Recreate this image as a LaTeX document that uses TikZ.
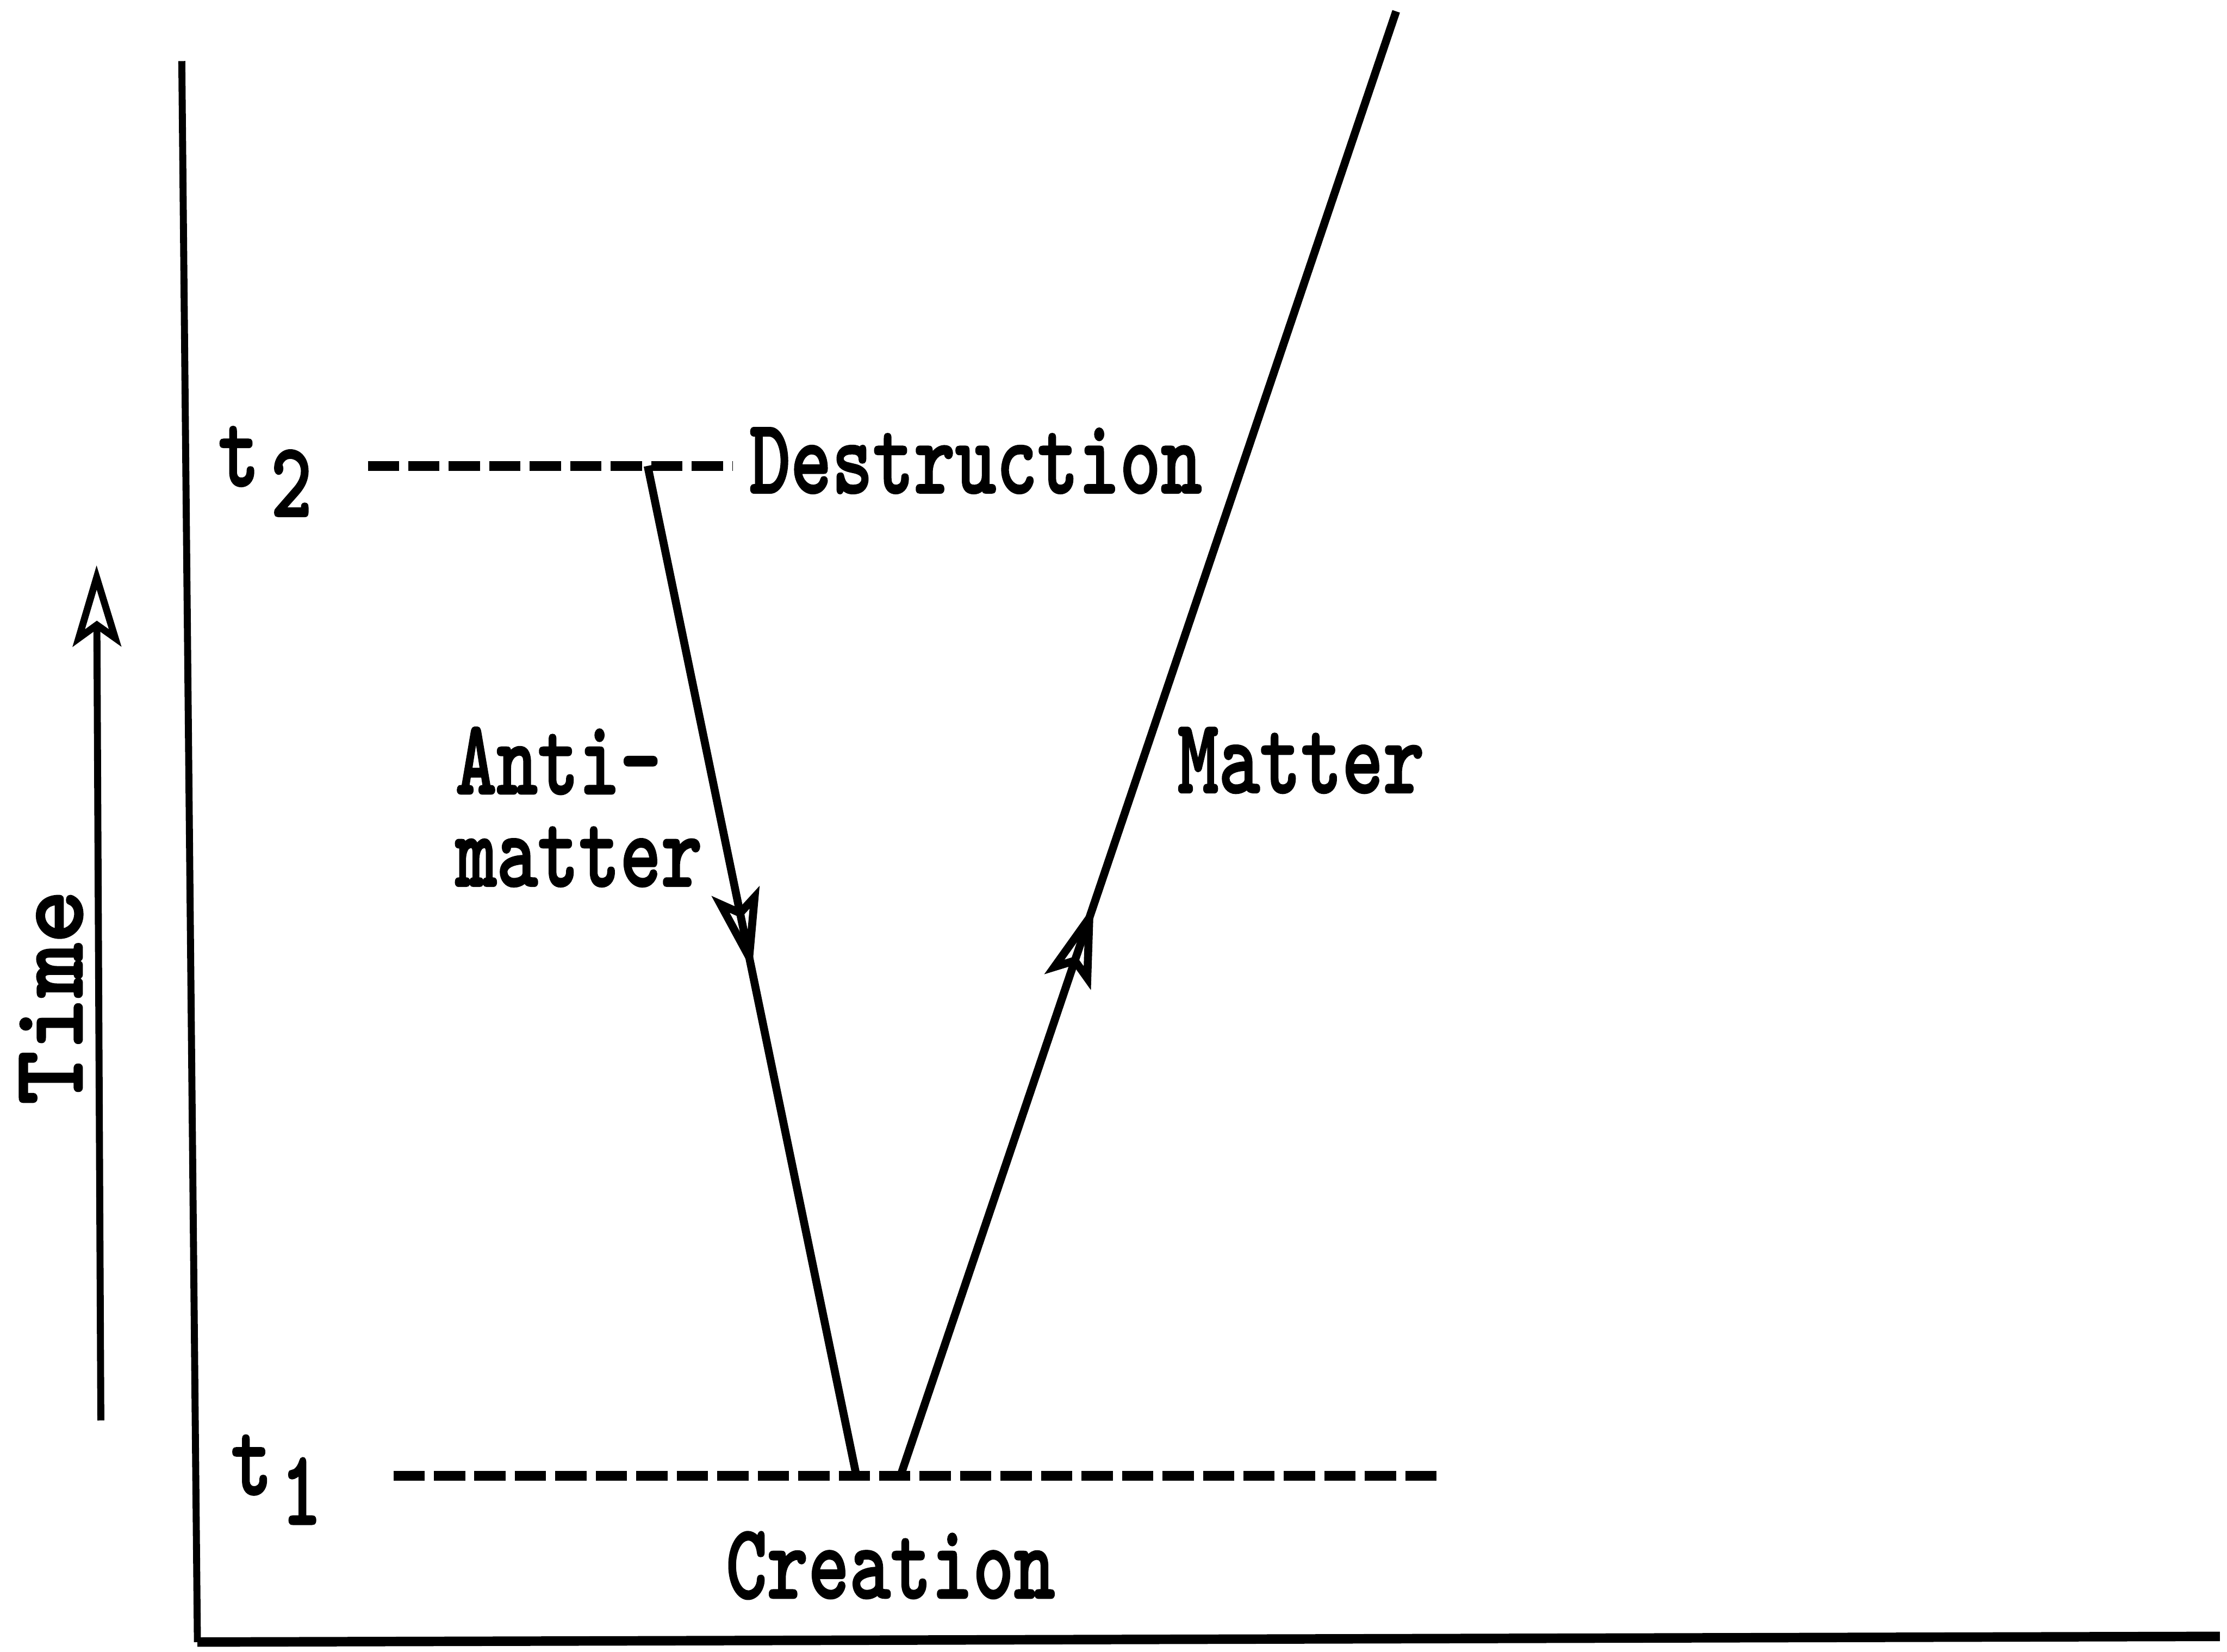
\documentclass[tikz,border=0pt]{standalone}
\usepackage{graphicx}
\usepackage{fontspec}
\newfontfamily\heavytt{lmmonolt10-bold}[Extension=.otf, FakeBold=1.6]
\usetikzlibrary{arrows.meta,decorations.markings}
\newcommand\tallbox[1]{\scalebox{1}[1.36]{#1}}
\tikzset{opentip/.tip={Stealth[open, length=5.7mm, width=3.4mm, inset=1.2mm]}}
\begin{document}
\begin{tikzpicture}[x=0.1mm,y=-0.1mm,
  lbl/.style={inner sep=0pt, font=\fontsize{15.7}{18.5}\selectfont\heavytt},
  axisline/.style={line width=1.4pt},
  worldline/.style={line width=1.6pt},
  levelline/.style={line width=2pt, dash pattern=on 2.2mm off 0.65mm},
  midtip/.style={postaction={decorate}, decoration={markings, mark=at position #1 with {\arrow{opentip}}}}
]
\useasboundingbox (0,0) rectangle (1568,1163);

% axes
\coordinate (ytop) at (128,43);
\coordinate (orig) at (139,1156);
\coordinate (xend) at (1563,1152);
\draw[axisline] (ytop) -- (orig);
\draw[line width=1.9pt] (orig) -- (xend);

% time arrow
\coordinate (tbot) at (71,1000);
\coordinate (ttop) at (68,398);
\draw[axisline, -{opentip}] (tbot) -- (ttop);
\node[font=\fontsize{20.5}{22}\selectfont\heavytt, rotate=90, inner sep=0pt] (time) at (36,702) {Time};

% levels
\coordinate (l2a) at (259,328);
\coordinate (l2b) at (516,328);
\coordinate (l1a) at (277,1039);
\coordinate (l1b) at (1017,1039);
\draw[levelline] (l2a) -- (l2b);
\draw[levelline] (l1a) -- (l1b);

\node[lbl, anchor=base west] (t2) at (153,342) {\tallbox{t}\hspace{0.8mm}\raisebox{-2.15mm}{\tallbox{2}}};
\node[lbl, anchor=base west] (t1) at (162,1052) {\tallbox{t}\hspace{0.6mm}\raisebox{-2.1mm}{\tallbox{1}}};

% world lines
\coordinate (D) at (456,328);
\coordinate (C1) at (603,1039);
\coordinate (C2) at (634,1039);
\coordinate (M) at (983,8);
\draw[worldline, midtip=0.5] (D) -- (C1);
\draw[worldline, midtip=0.39] (C2) -- (M);

% labels
\node[lbl, anchor=base] (dest) at (687,347) {\tallbox{Destruction}};
\node[lbl, anchor=base] (crea) at (627,1125) {\tallbox{Creation}};
\node[lbl, anchor=south west, align=left] (anti) at (320,625) {\tallbox{Anti-}\\\tallbox{matter}};
\node[lbl, anchor=base] (matt) at (916,558) {\tallbox{Matter}};
\end{tikzpicture}
\end{document}
